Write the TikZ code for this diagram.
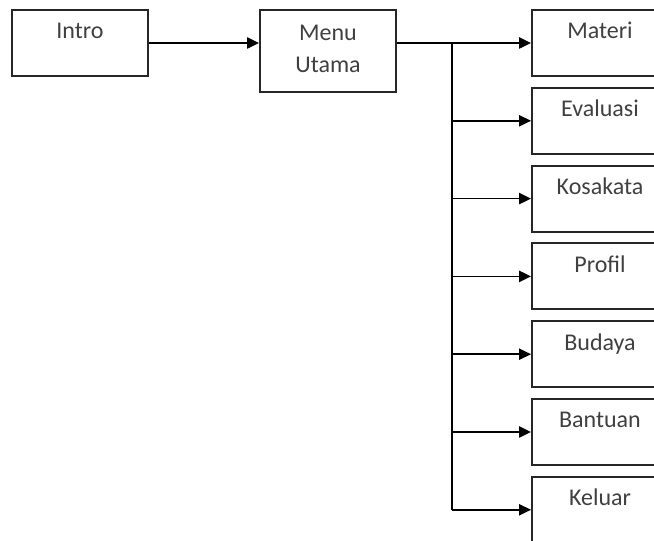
\documentclass[tikz,border=0pt]{standalone}
\usepackage{fontspec}
\setmainfont{Carlito}
\usetikzlibrary{arrows.meta}
\usetikzlibrary{positioning}

\begin{document}
\begin{tikzpicture}[
				x=0.75pt, y=-0.75pt,
				node distance=7.35pt,
				line width=1.1pt,
				kotak/.style={draw=black!85, line width=1.5pt, minimum width=102pt, minimum height=49.5pt,
					inner sep=0pt, text height=21.75pt, text depth=27.75pt, align=center,
					font=\fontsize{18}{24}\selectfont, text=black!75},
				arrow/.style={line width=1.1pt, -{Triangle[length=9pt, width=8.5pt]}},
				batang/.style={line width=2.2pt},
			]
				\useasboundingbox (0,0) rectangle (654,541);
				\clip (0,0) rectangle (654,541);
				\node (intro) [kotak, anchor=north west] at (11,9) {Intro};
				\node (menu) [kotak, minimum height=61.5pt, text height=47.25pt, text depth=14.25pt,
					right=82.5pt of intro.north east, anchor=north west] {Menu\\Utama};
				\node (materi) [kotak, right=100.5pt of menu.north east, anchor=north west] {Materi};
				\node (evaluasi) [kotak, below=of materi] {Evaluasi};
				\node (kosakata) [kotak, below=of evaluasi] {Kosakata};
				\node (profil) [kotak, below=of kosakata] {Profil};
				\node (budaya) [kotak, below=of profil] {Budaya};
				\node (bantuan) [kotak, below=of budaya] {Bantuan};
				\node (keluar) [kotak, below=of bantuan] {Keluar};
				\coordinate (atas) at (452,42);
				\coordinate (bawah) at (atas |- keluar.west);
				
				\draw[arrow] (intro.east) -- (intro.east -| menu.west);
				\draw[arrow] (materi.west -| menu.east) -- (materi.west);
				\draw[batang] (atas) -- (bawah);
				\draw[arrow] (atas |- evaluasi.west) -- (evaluasi.west);
				\draw[arrow] (atas |- kosakata.west) -- (kosakata.west);
				\draw[arrow] (atas |- profil.west) -- (profil.west);
				\draw[arrow] (atas |- budaya.west) -- (budaya.west);
				\draw[arrow] (atas |- bantuan.west) -- (bantuan.west);
				\draw[arrow] (bawah) -- (keluar.west);
			\end{tikzpicture}
\end{document}
